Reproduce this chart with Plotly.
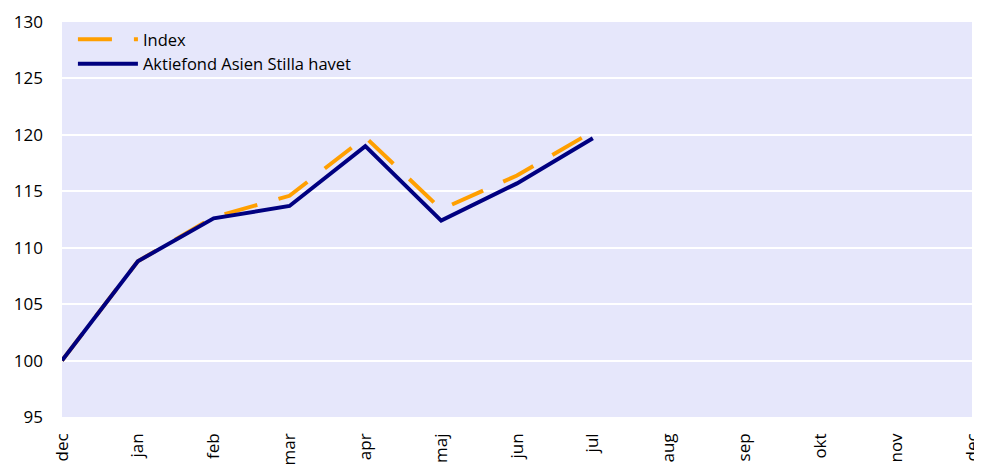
import plotly.graph_objects as go

months = ['dec', 'jan', 'feb', 'mar', 'apr', 'maj', 'jun', 'jul', 'aug', 'sep', 'okt', 'nov', 'dec']
index_vals = [100, 108.8, 112.7, 114.6, 119.8, 113.4, 116.4, 120.3]
fund_vals = [100, 108.8, 112.6, 113.7, 119.0, 112.4, 115.7, 119.7]
y_ticks = [95, 100, 105, 110, 115, 120, 125, 130]

pos = list(range(len(months)))

fig = go.Figure()
fig.add_trace(go.Scatter(x=pos[:len(index_vals)], y=index_vals, mode='lines', name='Index',
                         line=dict(color='#FF9F00', width=4, dash='34px,22px')))
fig.add_trace(go.Scatter(x=pos[:len(fund_vals)], y=fund_vals, mode='lines',
                         name='Aktiefond Asien Stilla havet',
                         line=dict(color='#000080', width=4)))

# page body has an 8px margin, so the figure is sized to fit the window
fig.update_layout(
    width=974, height=459,
    margin=dict(l=54, r=10, t=14, b=50),
    paper_bgcolor='white', plot_bgcolor='#E6E7FB',
    font=dict(family='Open Sans, sans-serif', color='black'),
    showlegend=True,
    legend=dict(x=0.012, y=1.0, xanchor='left', yanchor='top',
                bgcolor='rgba(0,0,0,0)', font=dict(size=16.5), tracegroupgap=0,
                itemwidth=60),
    xaxis=dict(range=[0, 12], tickmode='array', tickvals=pos, ticktext=months,
               tickangle=-90, showgrid=False, zeroline=False, showline=False,
               tickfont=dict(size=17), ticklabelstandoff=12, automargin=False,
               ticklabeloverflow='allow'),
    yaxis=dict(range=[95, 130], tickmode='array', tickvals=y_ticks,
               showgrid=True, gridcolor='white', gridwidth=2, zeroline=False,
               showline=False, tickfont=dict(size=17), ticklabelstandoff=18,
               automargin=False),
)

fig.write_html("out.html")
